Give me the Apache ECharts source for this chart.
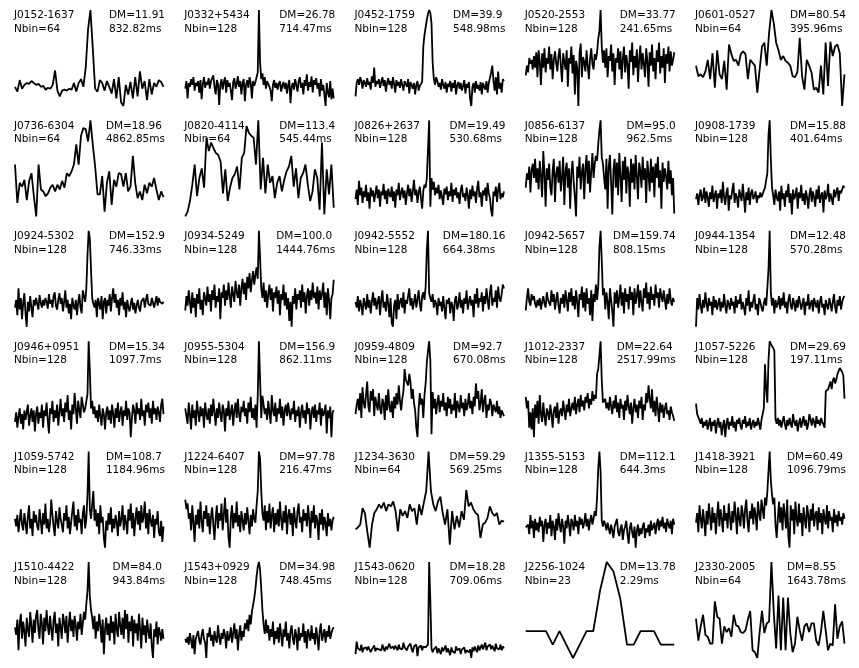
<!DOCTYPE html>
<html>
<head>
<meta charset="utf-8">
<script src="https://cdn.jsdelivr.net/npm/echarts@6/dist/echarts.min.js"></script>
<style>
  html, body { margin: 0; padding: 0; background: #fff; }
  #chart { width: 859px; height: 668px; }
</style>
</head>
<body>
<div id="chart"></div>
<script>
// pulsar names and labels (row by row)
const names = ['J0152-1637','J0332+5434','J0452-1759','J0520-2553','J0601-0527',
  'J0736-6304','J0820-4114','J0826+2637','J0856-6137','J0908-1739',
  'J0924-5302','J0934-5249','J0942-5552','J0942-5657','J0944-1354',
  'J0946+0951','J0955-5304','J0959-4809','J1012-2337','J1057-5226',
  'J1059-5742','J1224-6407','J1234-3630','J1355-5153','J1418-3921',
  'J1510-4422','J1543+0929','J1543-0620','J2256-1024','J2330-2005'];
const nbins = [64,128,128,128,64, 64,64,128,128,128, 128,128,128,128,128,
  128,128,128,128,128, 128,128,64,128,128, 128,128,128,23,64];
const dms = ['11.91','26.78','39.9','33.77','80.54', '18.96','113.4','19.49','95.0','15.88',
  '152.9','100.0','180.16','159.74','12.48', '15.34','156.9','92.7','22.64','29.69',
  '108.7','97.78','59.29','112.1','60.49', '84.0','34.98','18.28','13.78','8.55'];
const periods = ['832.82','714.47','548.98','241.65','395.96', '4862.85','545.44','530.68','962.5','401.64',
  '746.33','1444.76','664.38','808.15','570.28', '1097.7','862.11','670.08','2517.99','197.11',
  '1184.96','216.47','569.25','644.3','1096.79', '943.84','748.45','709.06','2.29','1643.78'];

// normalised profiles (0 = min, 100 = max)
const prof_J0152_1637 = [20,15,27,18,22,24,23,26,24,22, 23,20,21,17,19,18,22,37,16,10,
  16,17,16,18,17,24,15,24,28,20, 40,80,100,60,18,15,27,24,16,26, 20,13,28,8,30,4,0,22,12,25,
  8,30,10,36,18,26,6,28,12,24, 20,27,25,20];
const prof_J0332_5434 = [18,26,8,24,20,28,22,30,16,24, 21,26,14,27,7,23,30,19,25,22,
  29,18,26,24,32,20,12,27,23,1, 22,28,17,25,30,14,27,20,24,16, 6,25,29,18,23,31,20,26,12,24,
  28,5,22,27,19,30,24,8,26,21, 25,23,35,100,45,28,34,22,30,18, 26,24,20,16,5,22,27,19,24,17,
  23,26,15,21,25,18,24,13,22,27, 3,20,24,17,28,22,15,26,30,19, 24,12,27,21,33,16,25,20,31,14,
  27,22,29,18,24,10,28,16,22,12, 0,24,14,9,26,7,18,8];
const prof_J0452_1759 = [10,24,28,22,30,26,18,27,24,20, 29,22,25,17,31,24,40,20,26,23,
  28,19,25,30,21,27,15,24,29,22, 26,18,30,23,14,27,21,25,19,28, 22,16,26,24,20,28,13,25,22,18,
  24,12,22,26,16,21,20,25,62,74, 82,90,96,100,97,86,45,28,22,30, 26,20,24,17,28,22,18,25,14,23,
  20,26,15,24,19,27,12,22,25,18, 24,16,21,27,13,23,19,25,8,0, 20,24,14,26,18,22,16,25,12,24,
  20,17,26,14,24,22,35,42,26,16, 30,12,36,18,24,14,28,26];
const prof_J0520_2553 = [32,42,35,50,44,48,38,52,40,56, 30,58,46,22,55,40,60,35,50,44,
  62,38,54,28,48,57,45,36,52,60, 42,25,55,46,38,58,20,50,44,62, 34,53,12,47,40,0,55,65,30,51,
  46,36,58,42,28,50,60,44,38,54, 48,56,70,78,100,62,45,58,40,60, 30,52,47,64,36,55,22,50,45,60,
  38,57,28,49,62,35,53,44,18,58, 46,66,32,52,40,59,25,48,63,38, 55,44,30,60,47,20,56,42,64,36,
  50,28,58,46,66,34,52,40,60,24, 54,44,62,36,57,42,48,56];
const prof_J0601_0527 = [42,31,33,30,36,48,28,55,19,58, 33,28,47,17,64,54,47,48,42,54,
  57,54,28,48,45,42,14,38,62,66, 42,76,100,86,66,58,48,52,47,45, 42,31,30,35,71,31,17,48,42,35,
  17,19,14,42,12,66,21,67,52,62, 64,55,0,33];
const prof_J0736_6304 = [54,14,35,31,38,17,37,45,21,0, 54,28,26,21,24,30,33,26,33,28,
  37,30,45,42,47,54,75,54,84,92, 91,78,100,75,52,23,23,42,5,35, 47,12,38,31,45,44,31,45,26,31,
  63,35,19,26,17,33,24,35,31,40, 28,17,26,20];
const prof_J0820_4114 = [0,5,16,33,54,21,40,50,30,82, 68,77,71,66,64,57,24,49,16,30,
  40,44,52,28,61,66,94,87,84,82, 54,100,28,61,24,54,35,42,19,35, 42,26,38,47,52,63,31,50,19,40,
  45,54,33,16,26,49,40,7,77,2, 49,23,54,9];
const prof_J0826_2637 = [18,28,12,37,22,30,14,26,20,33, 16,25,8,30,21,27,15,24,32,19,
  28,10,26,22,34,18,27,13,29,23, 20,31,16,26,9,28,22,35,17,25, 30,19,27,12,24,33,21,29,15,26,
  38,22,28,14,25,31,19,8,27,33, 30,40,42,100,10,40,28,36,22,30, 24,33,18,27,20,12,29,23,31,17,
  26,21,35,15,28,22,30,19,25,13, 27,33,20,24,16,30,22,8,28,18, 32,21,26,14,29,37,20,25,10,27,
  22,30,16,35,24,19,6,0,26,21, 31,15,28,35,18,24,20,26];
const prof_J0856_6137 = [30,45,38,52,25,48,55,40,60,35, 50,28,58,42,20,68,45,10,50,38,
  55,30,22,48,60,15,44,52,35,58, 26,40,62,12,47,56,30,50,8,45, 58,36,20,0,52,40,62,28,46,55,
  18,50,64,34,58,25,47,66,40,55, 63,58,75,90,100,62,55,40,28,60, 8,52,64,35,2,48,60,30,56,22,
  66,42,15,58,38,62,24,52,45,10, 60,35,55,28,64,42,18,56,48,30, 62,38,50,14,58,44,26,60,35,52,
  20,55,40,62,30,48,8,56,36,50, 42,28,58,34,48,22,40,3];
const prof_J0908_1739 = [18,24,12,22,28,16,20,30,14,26, 20,10,25,18,32,15,22,27,8,24,
  19,28,14,36,20,12,25,30,6,22, 18,27,35,14,24,20,9,28,22,16, 34,20,4,25,17,30,12,24,28,18,
  21,26,14,22,19,25,20,23,27,30, 28,45,85,100,60,30,22,12,28,20, 16,26,6,32,18,24,10,27,20,34,
  14,24,2,28,18,22,30,8,25,19, 33,16,24,12,27,20,8,23,30,15, 26,20,10,28,18,32,14,22,25,4,
  27,18,22,34,15,24,19,12,28,20, 26,30,16,27,24,28,32,30];
const prof_J0924_5302 = [20,28,12,40,18,30,8,25,35,14, 0,26,16,32,20,10,28,22,30,24,
  18,33,25,20,28,22,30,26,19,34, 24,28,20,32,36,22,18,28,35,24, 30,16,26,38,20,28,14,24,8,30,
  22,18,28,12,25,34,20,14,38,32, 26,40,75,100,92,60,30,24,20,28, 10,30,24,18,32,8,26,30,14,28,
  22,34,16,30,40,25,34,20,28,12, 30,22,36,18,26,10,28,20,16,24, 30,18,25,14,22,28,20,16,26,24,
  30,20,28,34,24,26,22,30,28,20, 26,32,22,30,26,28,24,26];
const prof_J0934_5249 = [17,32,22,38,26,14,36,20,30,10, 34,24,40,18,28,12,36,30,22,42,
  26,34,16,38,28,44,20,32,26,40, 8,36,30,44,22,38,28,46,32,20, 42,34,26,48,36,30,44,22,40,50,
  34,46,28,52,40,56,36,48,58,44, 54,62,50,100,72,40,30,46,26,38, 20,34,44,28,40,16,36,30,42,24,
  38,12,34,28,44,22,36,18,30,6, 26,0,32,24,40,18,34,28,38,20, 44,26,36,14,32,40,22,38,28,46,
  30,36,24,42,18,38,28,34,46,20, 36,12,40,28,8,30,34,49];
const prof_J0942_5552 = [26,20,32,16,28,22,12,30,24,18, 34,20,28,14,26,36,22,30,18,26,
  32,12,28,38,20,26,16,34,24,10, 30,4,0,22,28,8,34,18,26,30, 20,36,14,28,24,32,40,22,30,18,
  26,34,20,28,38,24,16,32,36,28, 42,80,100,35,30,26,34,20,28,24, 12,30,22,26,16,32,20,8,28,24,
  30,14,26,22,6,28,32,18,24,36, 20,28,14,30,24,38,18,26,32,22, 28,10,34,24,40,20,30,26,36,16,
  32,24,40,28,18,36,44,22,30,26, 38,20,42,30,26,34,44,40];
const prof_J0942_5657 = [17,30,40,26,22,34,28,32,24,20, 28,22,30,18,26,32,24,20,36,28,
  30,22,38,26,34,18,28,36,22,14, 30,24,34,20,38,28,16,36,26,40, 22,32,18,38,26,10,34,28,42,20,
  36,16,40,24,30,12,38,6,34,26, 44,28,42,83,100,69,33,40,18,36, 26,8,40,28,16,0,36,24,38,20,
  30,44,22,36,14,40,26,34,18,42, 28,36,12,40,24,32,44,20,38,26, 16,40,30,46,24,36,18,42,28,34,
  22,44,30,36,20,40,32,26,38,28, 18,34,24,40,28,22,30,26];
const prof_J0944_1354 = [0,30,18,34,22,14,28,20,36,24, 16,30,22,26,12,32,20,28,18,24,
  30,16,26,20,34,22,14,28,24,18, 30,22,26,14,32,20,28,24,34,18, 26,20,12,30,22,38,16,26,20,28,
  34,18,24,12,30,26,20,16,24,30, 22,40,60,100,35,22,30,14,28,20, 24,32,18,30,22,36,20,26,14,28,
  34,22,18,30,24,16,28,20,32,26, 18,24,30,12,26,22,34,18,24,28, 16,30,24,20,28,14,26,32,20,24,
  12,28,22,18,30,24,16,26,34,20, 14,28,22,32,18,26,30,32];
const prof_J0946_0951 = [16,26,10,22,30,14,24,8,28,18, 26,34,12,22,30,16,28,6,24,32,
  14,26,20,34,10,28,22,36,18,4, 30,24,38,16,28,20,34,12,26,40, 22,30,16,36,26,44,18,28,8,34,
  24,46,30,14,38,28,20,42,34,26, 30,28,45,100,70,30,38,24,32,20, 28,16,34,22,12,30,24,8,26,32,
  18,28,14,34,24,10,30,20,36,16, 26,32,12,28,22,38,18,30,26,0, 20,34,28,14,36,24,30,18,40,22,
  28,12,34,26,36,20,30,14,38,24, 30,18,32,26,16,34,40,24];
const prof_J0955_5304 = [30,22,14,36,24,8,34,20,28,12, 38,26,16,32,22,30,10,36,24,18,
  30,14,34,22,40,26,12,30,20,36, 24,16,34,28,6,30,22,38,18,26, 34,12,28,36,20,40,24,16,32,26,
  38,22,30,14,36,26,42,20,30,18, 34,10,43,100,60,20,43,34,24,30, 18,38,26,14,44,28,22,36,16,30,
  24,40,20,32,12,28,34,22,36,26, 18,30,24,38,16,28,22,32,10,26, 34,20,28,14,36,24,30,8,26,32,
  20,34,16,28,24,36,12,30,22,26, 34,4,28,20,32,0,26,28];
const prof_J0959_4809 = [24,34,40,28,46,20,52,36,30,44, 58,32,26,48,38,50,22,42,34,28,
  46,30,24,40,36,18,44,28,50,32, 26,38,20,42,30,46,34,54,38,28, 40,48,71,60,62,54,66,58,40,50,
  36,28,10,0,30,46,34,40,20,44, 56,78,90,100,80,3,47,30,40,24, 36,44,26,38,32,46,28,36,22,42,
  30,40,24,34,28,46,20,38,32,26, 44,30,36,22,40,28,34,46,30,38, 24,42,32,56,40,48,28,36,50,26,
  38,44,20,34,28,40,36,22,34,30, 26,38,24,32,20,28,26,22];
const prof_J1012_2337 = [42,30,38,10,26,8,30,0,34,20, 38,14,44,24,16,36,22,12,30,26,
  18,34,24,10,28,32,20,36,14,26, 30,22,38,28,18,34,26,40,22,30, 36,28,42,24,34,40,26,44,32,38,
  28,42,36,46,30,40,34,48,38,44, 40,66,71,85,100,60,36,34,40,30, 36,28,42,32,24,38,30,44,26,36,
  20,40,30,34,18,38,28,44,32,24, 36,14,30,40,26,34,20,38,30,42, 18,34,28,46,36,54,40,30,50,26,
  38,22,42,30,16,36,26,34,20,30, 36,24,28,18,32,26,22,17];
const prof_J1057_5226 = [35,24,21,18,14,20,10,16,12,18, 8,14,20,6,16,12,18,4,14,20,
  10,16,2,12,18,0,14,20,8,16, 12,22,10,16,6,18,14,20,12,8, 18,14,22,10,16,12,20,8,14,18,
  10,16,12,20,14,8,18,24,30,76, 50,36,80,100,97,95,93,90,19,14, 20,12,18,10,16,22,14,8,18,12,
  20,14,10,24,16,12,18,6,14,20, 10,16,22,12,18,8,14,24,18,12, 20,16,10,22,14,18,12,20,16,14,
  10,48,46,50,52,58,50,59,62,56, 60,66,69,72,73,68,64,40];
const prof_J1059_5742 = [30,22,34,16,28,40,24,18,36,26, 14,32,44,20,30,12,38,26,34,22,
  18,40,28,14,36,24,46,20,30,16, 26,50,34,22,12,38,28,20,42,30, 24,16,36,28,44,20,32,14,26,38,
  48,22,34,18,40,26,30,14,36,44, 20,30,55,100,40,30,45,59,28,40, 22,36,14,44,26,32,10,0,28,18,
  36,24,42,16,30,20,34,26,12,38, 22,30,44,18,34,26,14,40,28,46, 20,36,12,30,42,24,38,18,44,26,
  32,48,20,36,14,40,28,22,34,10, 30,24,38,16,12,28,6,22];
const prof_J1224_6407 = [50,40,46,30,36,18,44,26,6,34, 24,40,20,48,28,16,38,30,44,22,
  36,14,32,42,24,8,30,44,20,36, 28,46,18,34,52,26,40,10,0,32, 44,20,36,26,48,22,34,16,38,28,
  18,36,24,42,28,14,34,22,40,30, 26,44,59,100,93,59,35,28,44,18, 38,26,46,20,34,42,16,36,24,40,
  22,48,30,18,38,26,44,14,34,40, 24,36,12,42,28,20,38,46,26,32, 16,40,28,36,22,44,30,10,38,26,
  44,20,34,28,8,36,24,40,18,32, 26,12,36,22,30,18,28,32];
const prof_J1234_3630 = [19,21,24,41,36,17,0,24,36,40, 45,41,47,38,45,43,48,38,17,40,
  33,38,31,45,38,41,24,45,34,47, 59,100,59,45,38,48,53,36,24,40, 3,38,19,33,21,38,29,60,43,47,
  40,36,34,10,24,26,31,43,36,33, 36,24,28,27];
const prof_J1355_5153 = [21,22,24,14,34,20,28,10,30,18, 26,16,32,22,28,6,24,30,14,26,
  20,34,12,28,22,8,30,18,36,24, 16,30,22,4,28,20,34,24,12,30, 26,18,34,22,28,14,32,24,30,20,
  26,36,22,30,18,28,34,24,30,38, 33,52,83,100,79,28,22,28,24,18, 26,20,14,24,18,10,22,26,30,16,
  12,20,24,8,18,22,28,14,4,20, 26,16,10,22,0,18,24,12,20,14, 22,26,10,20,16,24,12,28,18,22,
  26,14,24,30,18,28,22,32,20,26, 16,30,24,20,28,14,30,24];
const prof_J1418_3921 = [26,36,16,44,30,20,40,28,12,38, 24,46,32,18,42,26,36,14,34,48,
  22,40,30,16,44,28,36,20,46,32, 18,38,26,48,34,14,42,30,22,44, 36,20,40,50,28,16,38,30,46,24,
  42,34,18,48,36,28,50,40,30,52, 44,58,80,100,70,55,45,52,24,10, 30,48,26,42,18,46,34,20,50,12,
  0,44,28,40,14,48,30,22,46,26, 36,12,42,30,20,44,34,16,40,28, 46,22,34,38,18,42,26,36,14,40,
  30,24,44,20,38,28,32,16,40,26, 34,22,38,28,32,24,36,30];
const prof_J1510_4422 = [32,24,40,8,36,46,20,38,28,12, 42,30,22,48,34,16,40,26,44,50,
  30,20,46,36,14,42,28,50,34,24, 44,30,18,40,48,26,36,12,42,32, 20,46,38,26,44,16,34,48,28,40,
  22,44,34,18,38,30,46,24,36,48, 40,56,70,100,64,50,42,30,44,20, 38,28,46,34,16,40,4,30,42,24,
  36,18,44,26,38,14,46,30,22,48, 34,24,42,20,50,30,46,16,38,28, 44,12,40,26,36,18,46,30,10,42,
  24,34,16,40,28,20,36,12,0,30, 22,38,14,32,26,18,30,20];
const prof_J1543_0929 = [20,16,22,14,26,18,10,24,4,20, 22,28,18,14,24,30,20,16,0,26,
  22,32,18,24,12,28,20,16,34,22, 14,26,20,30,24,10,28,18,22,32, 16,26,36,20,30,8,24,34,18,28,
  22,36,30,40,28,45,35,48,55,62, 72,85,95,100,92,72,50,35,25,40, 26,34,18,30,22,38,14,28,20,32,
  16,36,24,12,30,22,38,18,26,10, 28,34,20,14,30,24,8,32,18,26, 22,36,16,28,10,30,24,18,34,20,
  26,14,32,22,8,28,36,18,24,30, 16,28,22,34,20,26,30,32];
const prof_J1543_0620 = [4,17,10,12,8,14,6,10,9,11, 8,12,10,6,9,11,13,7,10,12,
  9,11,8,14,10,7,12,9,11,15, 10,8,12,9,13,11,8,14,10,12, 9,16,11,13,8,12,10,15,9,6,
  12,10,14,2,11,9,13,8,12,10, 11,13,14,100,60,10,6,9,7,12, 5,10,8,4,11,7,9,13,6,10,
  8,3,11,7,9,5,12,8,6,10, 4,9,7,11,5,8,10,6,9,0, 11,7,12,9,6,13,8,10,14,9,
  11,16,8,12,10,14,9,13,11,7, 15,10,12,9,14,8,12,10];
const prof_J2256_1024 = [28,28,28,28,14,28,14,0,14,28,28,70,100,90,62,14,14,28,28,28,14,14,14];
const prof_J2330_2005 = [41,18,33,45,24,22,15,15,59,43, 41,15,33,27,31,22,45,34,33,27,
  26,29,40,49,8,6,0,27,49,26, 36,38,100,47,10,65,8,63,8,63, 26,6,15,43,29,18,33,36,27,36,
  36,18,13,27,49,29,8,15,13,56, 20,33,38,15];

const profiles = [prof_J0152_1637, prof_J0332_5434, prof_J0452_1759, prof_J0520_2553, prof_J0601_0527,
  prof_J0736_6304, prof_J0820_4114, prof_J0826_2637, prof_J0856_6137, prof_J0908_1739,
  prof_J0924_5302, prof_J0934_5249, prof_J0942_5552, prof_J0942_5657, prof_J0944_1354,
  prof_J0946_0951, prof_J0955_5304, prof_J0959_4809, prof_J1012_2337, prof_J1057_5226,
  prof_J1059_5742, prof_J1224_6407, prof_J1234_3630, prof_J1355_5153, prof_J1418_3921,
  prof_J1510_4422, prof_J1543_0929, prof_J1543_0620, prof_J2256_1024, prof_J2330_2005];

let chart = echarts.init(document.getElementById('chart'));

const FONT = '10.5px "DejaVu Sans"';
let ctx = document.createElement('canvas').getContext('2d');
ctx.font = FONT;
function textWidth(s) { return ctx.measureText(s).width; }

let grids = [], xAxes = [], yAxes = [], series = [], texts = [];
profiles.forEach(function (prof, i) {
  let r = Math.floor(i / 5), c = i % 5;
  let left = 15 + 170.25 * c, top = 10 + 110.4 * r, w = 148.5, h = 96;
  grids.push({left: left, top: top, width: w, height: h});
  xAxes.push({type: 'value', gridIndex: i, min: 0, max: prof.length - 1, show: false});
  yAxes.push({type: 'value', gridIndex: i, min: 0, max: 100, show: false});
  series.push({
    type: 'line', xAxisIndex: i, yAxisIndex: i,
    data: prof.map(function (v, k) { return [k, v]; }),
    showSymbol: false, silent: true,
    lineStyle: {color: '#000', width: 1.8}
  });
  texts.push({
    type: 'text', x: left - 1, y: top - 1, z: 10,
    style: {text: names[i] + '\nNbin=' + nbins[i], font: FONT, lineHeight: 13.4, fill: '#000'}
  });
  let l1 = 'DM=' + dms[i], l2 = periods[i] + 'ms';
  let bw = Math.max(textWidth(l1), textWidth(l2));
  texts.push({
    type: 'text', x: left + w + 1.5 - bw, y: top - 1, z: 10,
    style: {text: l1 + '\n' + l2, font: FONT, lineHeight: 13.4, fill: '#000', align: 'left'}
  });
});

chart.setOption({
  animation: false,
  backgroundColor: '#fff',
  grid: grids,
  xAxis: xAxes,
  yAxis: yAxes,
  series: series,
  graphic: texts
});
</script>
</body>
</html>
